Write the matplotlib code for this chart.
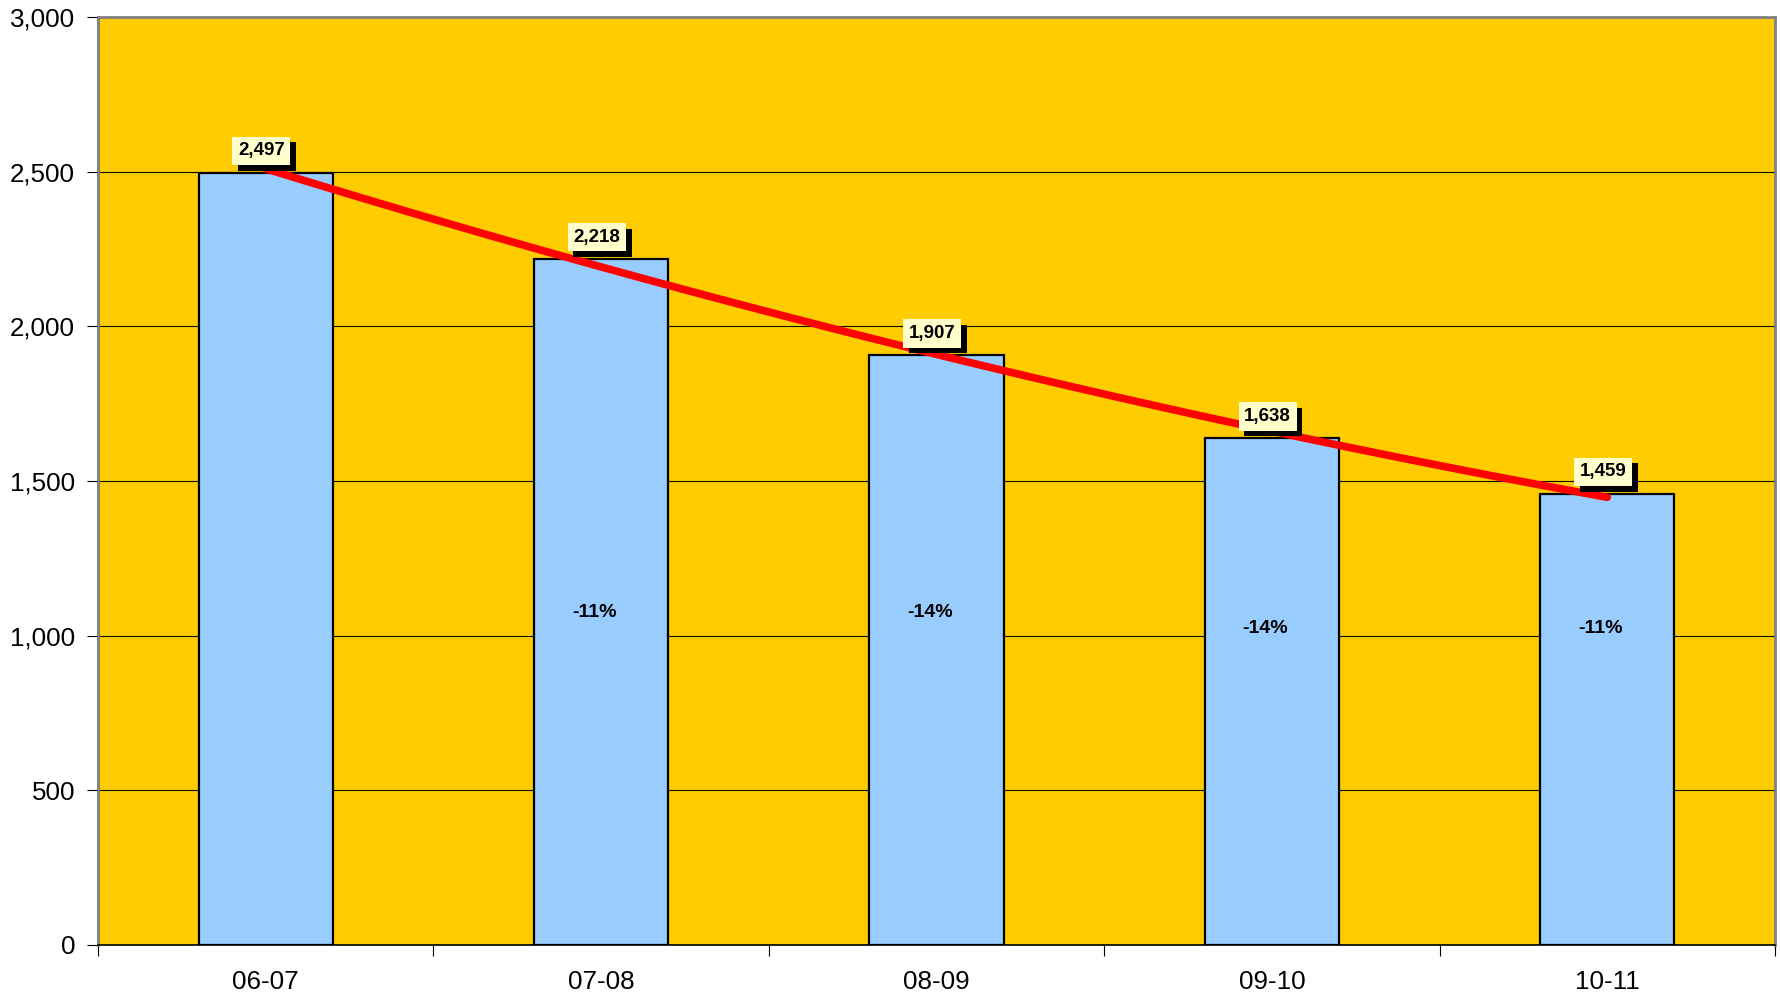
import numpy as np
import matplotlib.pyplot as plt
import matplotlib.patheffects as pe
from matplotlib.ticker import FuncFormatter

plt.rcParams['font.family'] = ['Liberation Sans', 'DejaVu Sans']

seasons = ['06-07', '07-08', '08-09', '09-10', '10-11']
values = [2497, 2218, 1907, 1638, 1459]

# vertical placement of the percent labels inside the bars
pct_label_y = [None, 1075, 1075, 1023, 1023]

x = np.arange(len(seasons))

fig = plt.figure(figsize=(17.81, 10.02), dpi=100)
ax = fig.add_axes([0.055, 0.057, 0.9416, 0.926])
ax.set_facecolor('#FFCC00')

ax.bar(x, values, width=0.4, color='#99CCFF', edgecolor='black',
       linewidth=1.6, zorder=2)

# quadratic trendline fitted to the data
coef = np.polyfit(x, values, 2)
xs = np.linspace(0, 4, 200)
ax.plot(xs, np.polyval(coef, xs), color='#FF0000', linewidth=5.5,
        solid_capstyle='round', zorder=3)

for xi, v in zip(x, values):
    t = ax.annotate(f'{v:,}', xy=(xi, v), xytext=(-3, 9.5),
                    textcoords='offset points', ha='center', va='bottom',
                    fontsize=13.5, fontweight='bold', zorder=5,
                    bbox=dict(boxstyle='square,pad=0.3', facecolor='#FFFFCC',
                              edgecolor='none'))
    t.get_bbox_patch().set_path_effects(
        [pe.withSimplePatchShadow(offset=(4, -4), shadow_rgbFace='black', alpha=1.0),
         pe.Normal()])

for i in range(1, len(values)):
    pct = values[i] / values[i - 1] - 1
    ax.text(x[i] - 0.02, pct_label_y[i], f'{pct:.0%}', ha='center', va='center',
            fontsize=14, fontweight='bold', zorder=4)

ax.set_xlim(-0.5, len(seasons) - 0.5)
ax.set_ylim(0, 3000)
ax.set_yticks(np.arange(0, 3001, 500))
ax.yaxis.set_major_formatter(FuncFormatter(lambda v, p: f'{int(v):,}'))
ax.grid(axis='y', color='black', linewidth=0.8, zorder=1)
ax.set_axisbelow(True)

ax.set_xticks(x)
ax.set_xticklabels(seasons)
ax.set_xticks(np.arange(-0.5, len(seasons)), minor=True)
ax.tick_params(axis='x', which='major', length=0, pad=18, labelsize=18.7)
ax.tick_params(axis='x', which='minor', length=8, width=0.8, direction='out')
ax.tick_params(axis='y', length=8, width=0.8, pad=8.5, labelsize=18.7)

for s in ['top', 'right', 'left']:
    ax.spines[s].set_color('#808080')
    ax.spines[s].set_linewidth(2)
ax.spines['bottom'].set_color('black')
ax.spines['bottom'].set_linewidth(1.2)

fig.savefig('out.png', dpi=100)
